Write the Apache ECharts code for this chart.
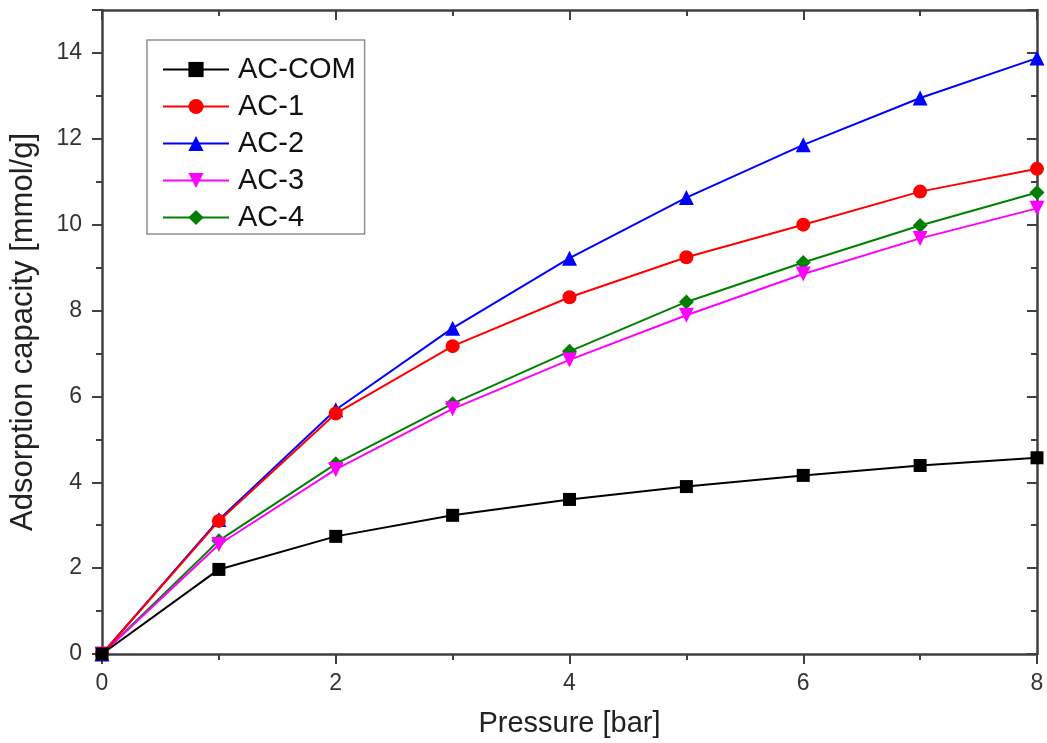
<!DOCTYPE html>
<html>
<head>
<meta charset="utf-8">
<script src="https://cdn.jsdelivr.net/npm/echarts@6/dist/echarts.min.js"></script>
<style>html,body{margin:0;padding:0;background:#fff}#c{width:1047px;height:743px}</style>
</head>
<body>
<div id="c"></div>
<script>
const pressure = [0, 1, 2, 3, 4, 5, 6, 7, 8];
const seriesNames = ['AC-COM', 'AC-1', 'AC-2', 'AC-3', 'AC-4'];
const acCOM = [0, 1.97, 2.74, 3.23, 3.60, 3.90, 4.16, 4.39, 4.57];
const ac1 = [0, 3.10, 5.60, 7.17, 8.31, 9.24, 10.00, 10.77, 11.30];
const ac2 = [0, 3.13, 5.69, 7.59, 9.22, 10.63, 11.86, 12.95, 13.88];
const ac3 = [0, 2.55, 4.30, 5.71, 6.85, 7.89, 8.85, 9.68, 10.38];
const ac4 = [0, 2.64, 4.43, 5.83, 7.05, 8.20, 9.12, 9.98, 10.75];
const xLabel = 'Pressure [bar]';
const yLabel = 'Adsorption capacity [mmol/g]';

const values = [acCOM, ac1, ac2, ac3, ac4];
const colors = ['#000000', '#ff0000', '#0000ff', '#ff00ff', '#008000'];
const symbols = ['rect', 'circle', 'triangle', 'triangle', 'diamond'];
const rotations = [0, 0, 0, 180, 0];
const sizes = [13, 14, 15, 15, 15];

const font = 'Liberation Sans, Arial, sans-serif';
const axisColor = '#404040';

const series = seriesNames.map((n, i) => ({
  name: n,
  type: 'line',
  data: pressure.map((p, j) => [p, values[i][j]]),
  symbol: symbols[i],
  symbolSize: sizes[i],
  symbolRotate: rotations[i],
  showAllSymbol: true,
  lineStyle: { color: colors[i], width: 2 },
  itemStyle: { color: colors[i] },
  z: 10 - i
}));

function axisCommon(inside) {
  return {
    axisLine: { show: true, onZero: false, lineStyle: { color: axisColor, width: 2.5 } },
    axisTick: { show: true, inside: inside, length: 10, lineStyle: { color: axisColor, width: 2 } },
    minorTick: { show: true, splitNumber: 2, length: 6, lineStyle: { color: axisColor, width: 2 } },
    splitLine: { show: false }
  };
}

const chart = echarts.init(document.getElementById('c'), null, { renderer: 'canvas' });
chart.setOption({
  animation: false,
  backgroundColor: '#fff',
  grid: { left: 102, right: 10, top: 10, bottom: 88 },
  legend: {
    orient: 'vertical',
    left: 147,
    top: 40,
    data: seriesNames,
    itemWidth: 66,
    itemHeight: 19,
    itemGap: 8,
    padding: [15, 9, 2, 15],
    backgroundColor: '#fff',
    borderColor: '#909090',
    borderWidth: 1.5,
    textStyle: { fontFamily: font, fontSize: 29, color: '#111', padding: [0, 0, 0, 4] }
  },
  xAxis: [Object.assign({
    type: 'value', min: 0, max: 8, interval: 2,
    name: xLabel, nameLocation: 'middle', nameGap: 55,
    nameTextStyle: { fontFamily: font, fontSize: 29, color: '#222' },
    axisLabel: { fontFamily: font, fontSize: 23, color: '#333', margin: 18 }
  }, axisCommon(false)), Object.assign({
    type: 'value', min: 0, max: 8, interval: 2, position: 'top',
    axisLabel: { show: false }
  }, axisCommon(true))],
  yAxis: [Object.assign({
    type: 'value', min: 0, max: 15, interval: 2,
    name: yLabel, nameLocation: 'middle', nameGap: 63,
    nameTextStyle: { fontFamily: font, fontSize: 31, color: '#222' },
    axisLabel: { fontFamily: font, fontSize: 23, color: '#333', margin: 20, showMaxLabel: false }
  }, axisCommon(false)), Object.assign({
    type: 'value', min: 0, max: 15, interval: 2, position: 'right',
    axisLabel: { show: false }
  }, axisCommon(true))],
  series: series
});
</script>
</body>
</html>
